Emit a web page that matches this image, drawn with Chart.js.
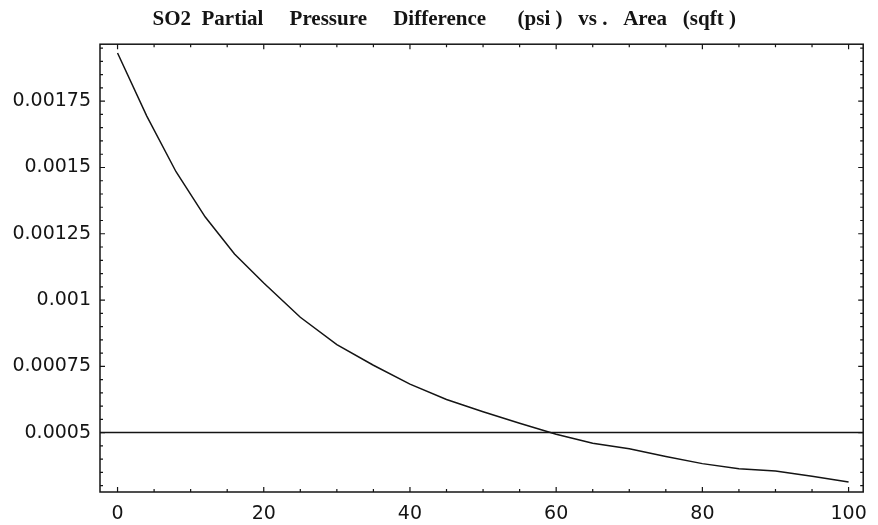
<!DOCTYPE html>
<html>
<head>
<meta charset="utf-8">
<script src="https://cdn.jsdelivr.net/npm/chart.js@4.4.1/dist/chart.umd.min.js"></script>
<style>
  html, body { margin: 0; padding: 0; background: #fff; }
  .chart-box { width: 878px; height: 525px; }
</style>
</head>
<body>
<div class="chart-box"><canvas id="pressureChart"></canvas></div>
<script>
// SO2 partial pressure difference (psi) against area (sqft)
const areas = [0, 4, 8, 12, 16, 20, 25, 30, 35, 40, 45, 50, 55, 60, 65, 70, 75, 80, 85, 90, 95, 100];
const pressureDiff = [0.001932, 0.001694, 0.001484, 0.001313, 0.001174, 0.001064, 0.000935, 0.000832,
  0.000754, 0.000683, 0.000625, 0.000579, 0.000535, 0.000494, 0.000460, 0.000439, 0.000410,
  0.000383, 0.000364, 0.000355, 0.000335, 0.000314];
const limitLevel = 0.0005;

const xRange = [-2.4, 102];
const yRange = [0.000276, 0.001965];
const xTicks = [0, 20, 40, 60, 80, 100];
const xMinorTicks = [5, 10, 15, 25, 30, 35, 45, 50, 55, 65, 70, 75, 85, 90, 95];
const yTicks = [0.0005, 0.00075, 0.001, 0.00125, 0.0015, 0.00175];
const yTickLabels = ['0.0005', '0.00075', '0.001', '0.00125', '0.0015', '0.00175'];
const yMinorTicks = [0.0003, 0.00035, 0.0004, 0.00045, 0.00055, 0.0006, 0.00065, 0.0007,
  0.0008, 0.00085, 0.0009, 0.00095, 0.00105, 0.0011, 0.00115, 0.0012,
  0.0013, 0.00135, 0.0014, 0.00145, 0.00155, 0.0016, 0.00165, 0.0017,
  0.0018, 0.00185, 0.0019, 0.00195];

const ink = '#141414';
const labelFont = { family: 'DejaVu Sans', size: 19 };

// frame box with inward ticks on all four sides
const frameTicks = {
  id: 'frameTicks',
  afterDatasetsDraw(chart) {
    const { ctx, chartArea: a, scales: { x, y } } = chart;
    ctx.save();
    ctx.strokeStyle = ink;
    ctx.lineWidth = 1.5;
    ctx.strokeRect(a.left, a.top, a.right - a.left, a.bottom - a.top);
    ctx.lineWidth = 1.2;
    ctx.beginPath();
    const xMark = (v, len) => {
      const px = x.getPixelForValue(v);
      ctx.moveTo(px, a.bottom); ctx.lineTo(px, a.bottom - len);
      ctx.moveTo(px, a.top); ctx.lineTo(px, a.top + len);
    };
    const yMark = (v, len) => {
      const py = y.getPixelForValue(v);
      ctx.moveTo(a.left, py); ctx.lineTo(a.left + len, py);
      ctx.moveTo(a.right, py); ctx.lineTo(a.right - len, py);
    };
    xTicks.forEach(v => xMark(v, 5));
    xMinorTicks.forEach(v => xMark(v, 3));
    yTicks.forEach(v => yMark(v, 5));
    yMinorTicks.forEach(v => yMark(v, 3));
    ctx.stroke();
    ctx.restore();
  }
};

// title sits left of centre, so it is laid out from the plot's left edge
const titleText = '          SO2  Partial     Pressure     Difference      (psi )   vs .   Area   (sqft )';

const ctx = document.getElementById('pressureChart').getContext('2d');
new Chart(ctx, {
  type: 'line',
  data: {
    datasets: [
      {
        label: 'Pressure difference',
        data: areas.map((a, i) => ({ x: a, y: pressureDiff[i] })),
        borderColor: ink,
        borderWidth: 1.5,
        pointRadius: 0,
        tension: 0
      },
      {
        label: 'Limit',
        data: xRange.map(a => ({ x: a, y: limitLevel })),
        borderColor: ink,
        borderWidth: 1.5,
        pointRadius: 0,
        tension: 0
      }
    ]
  },
  options: {
    responsive: true,
    maintainAspectRatio: false,
    animation: false,
    layout: { padding: { left: 0, right: 10, top: 0, bottom: 0 } },
    plugins: {
      legend: { display: false },
      tooltip: { enabled: false },
      title: {
        display: true,
        fullSize: false,
        align: 'start',
        text: titleText,
        color: ink,
        font: { family: 'Liberation Serif', size: 21, weight: 'bold' },
        padding: { top: 7, bottom: 12 }
      }
    },
    scales: {
      x: {
        type: 'linear',
        min: xRange[0],
        max: xRange[1],
        grid: { display: false, drawTicks: false },
        border: { display: false },
        afterBuildTicks: s => { s.ticks = xTicks.map(v => ({ value: v })); },
        afterFit: s => { s.height = 33; },
        ticks: {
          color: ink,
          font: labelFont,
          padding: 11,
          autoSkip: false,
          maxRotation: 0,
          callback: v => String(v)
        }
      },
      y: {
        type: 'linear',
        min: yRange[0],
        max: yRange[1],
        grid: { display: false, drawTicks: false },
        border: { display: false },
        afterBuildTicks: s => { s.ticks = yTicks.map(v => ({ value: v })); },
        afterFit: s => { s.width = 100; },
        ticks: {
          color: ink,
          font: labelFont,
          padding: 9,
          autoSkip: false,
          callback: v => yTickLabels[yTicks.indexOf(v)]
        }
      }
    }
  },
  plugins: [frameTicks]
});
</script>
</body>
</html>
